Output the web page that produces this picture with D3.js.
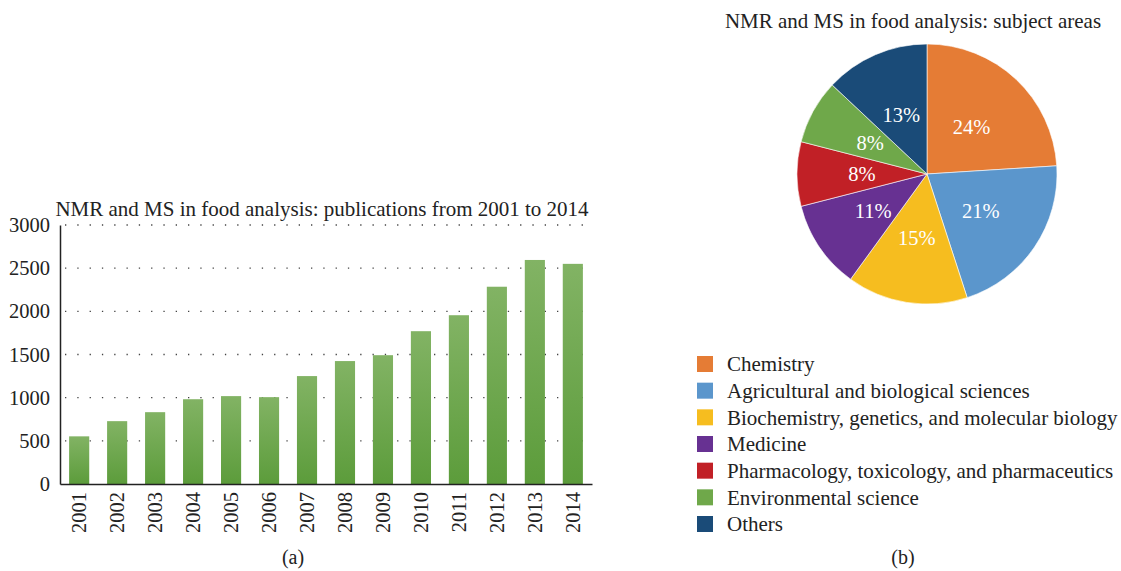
<!DOCTYPE html>
<html><head><meta charset="utf-8">
<script src="https://cdnjs.cloudflare.com/ajax/libs/d3/7.8.5/d3.min.js"></script>
<style>body{margin:0;background:#fff}svg{display:block}text{font-family:"Liberation Serif","Times New Roman",serif;fill:#222}</style>
</head><body>
<script>
const years = ["2001","2002","2003","2004","2005","2006","2007","2008","2009","2010","2011","2012","2013","2014"];
const publications = [552, 728, 832, 982, 1018, 1006, 1250, 1424, 1492, 1770, 1955, 2285, 2595, 2550];
const yTicks = [0, 500, 1000, 1500, 2000, 2500, 3000];
const subjects = ["Chemistry","Agricultural and biological sciences","Biochemistry, genetics, and molecular biology","Medicine","Pharmacology, toxicology, and pharmaceutics","Environmental science","Others"];
const shares = [24, 21, 15, 11, 8, 8, 13];
const subjectColors = ["#e57c35","#5b96cc","#f6bd1f","#673192","#c12026","#6fa84a","#1a4b78"];

const W = 1121, H = 571;
const svg = d3.select("body").append("svg").attr("width", W).attr("height", H);

const defs = svg.append("defs");
const grad = defs.append("linearGradient").attr("id","barGrad").attr("x1",0).attr("y1",0).attr("x2",0).attr("y2",1);
grad.append("stop").attr("offset","0%").attr("stop-color","#82b364");
grad.append("stop").attr("offset","100%").attr("stop-color","#5c9c3b");

// ---- Bar chart ----
const x0 = 60, x1 = 592, yTop = 225, yBot = 484;
const x = d3.scaleBand().domain(years).range([x0, x1]).paddingInner(0.47).paddingOuter(0.24);
const y = d3.scaleLinear().domain([0, 3000]).range([yBot, yTop]);

const g = svg.append("g");
g.selectAll("line.grid").data(yTicks.filter(d => d > 0)).join("line")
  .attr("x1", x0 + 5).attr("x2", x1).attr("y1", d => y(d)).attr("y2", d => y(d))
  .attr("stroke", "#444").attr("stroke-width", 1.3).attr("stroke-dasharray", "1.3 11");

g.selectAll("rect.bar").data(publications).join("rect")
  .attr("x", (d, i) => x(years[i])).attr("width", x.bandwidth())
  .attr("y", d => y(d)).attr("height", d => yBot - y(d))
  .attr("fill", "url(#barGrad)");

const yAxis = d3.axisLeft(y).tickValues(yTicks).tickSize(0).tickPadding(10).tickFormat(d3.format("d"));
const ya = g.append("g").attr("transform", `translate(${x0},0)`).call(yAxis);
ya.select(".domain").attr("stroke", "#222").attr("stroke-width", 1.5);
ya.selectAll("text").style("font-size", "20.5px").style("font-family", '"Liberation Serif",serif').attr("fill","#222");

const xAxis = d3.axisBottom(x).tickSize(0).tickPadding(0);
const xa = g.append("g").attr("transform", `translate(0,${yBot})`).call(xAxis);
xa.select(".domain").attr("stroke", "#222").attr("stroke-width", 1.5);
xa.selectAll("text").style("font-size", "20.5px").style("font-family", '"Liberation Serif",serif').attr("fill","#222")
  .attr("transform", "rotate(-90)").attr("text-anchor", "end").attr("dy", "0.35em").attr("x", -8).attr("y", 0);

svg.append("text").attr("x", 322).attr("y", 216).attr("text-anchor", "middle").style("font-size", "21px")
  .text("NMR and MS in food analysis: publications from 2001 to 2014");
svg.append("text").attr("x", 293).attr("y", 564).attr("text-anchor", "middle").style("font-size", "20px").text("(a)");

// ---- Pie chart ----
const cx = 927, cy = 174, R = 130;
const pie = d3.pie().sort(null).value(d => d)(shares);
const arc = d3.arc().innerRadius(0).outerRadius(R);
const labelArc = d3.arc().innerRadius(R * 0.5).outerRadius(R * 0.5);
const pg = svg.append("g").attr("transform", `translate(${cx},${cy})`);
pg.selectAll("path").data(pie).join("path").attr("d", arc)
  .attr("fill", (d, i) => subjectColors[i]).attr("stroke", "#fff").attr("stroke-width", 0.6);
pg.selectAll("text").data(pie).join("text")
  .attr("transform", d => `translate(${labelArc.centroid(d)})`)
  .attr("text-anchor", "middle").attr("dy", "0.35em")
  .style("font-size", "20.5px").style("fill", "#fff")
  .text(d => d.data + "%");

svg.append("text").attr("x", 913).attr("y", 28).attr("text-anchor", "middle").style("font-size", "21px")
  .text("NMR and MS in food analysis: subject areas");

const lg = svg.append("g");
const ly = d3.scalePoint().domain(subjects).range([364, 524]);
lg.selectAll("rect").data(subjects).join("rect")
  .attr("x", 697).attr("y", d => ly(d) - 8).attr("width", 16).attr("height", 16)
  .attr("fill", (d, i) => subjectColors[i]);
lg.selectAll("text").data(subjects).join("text")
  .attr("x", 727).attr("y", d => ly(d)).attr("dy", "0.35em").style("font-size", "21px")
  .text(d => d);

svg.append("text").attr("x", 903).attr("y", 564).attr("text-anchor", "middle").style("font-size", "20px").text("(b)");
</script>
</body></html>
